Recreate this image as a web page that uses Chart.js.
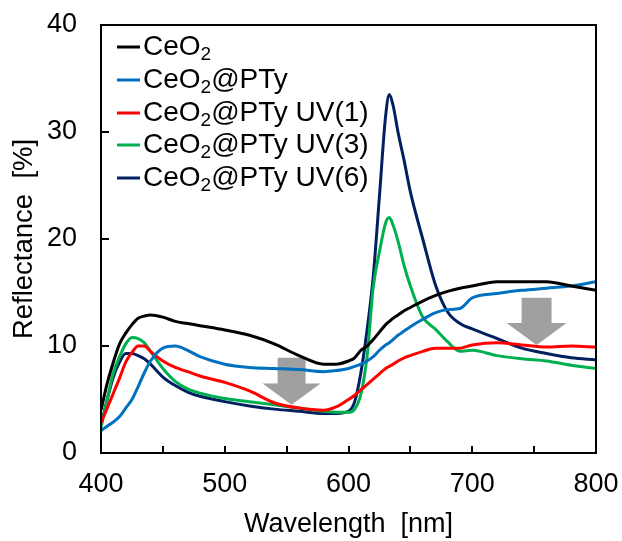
<!DOCTYPE html>
<html>
<head>
<meta charset="utf-8">
<script src="https://cdn.jsdelivr.net/npm/chart.js@4.4.1/dist/chart.umd.min.js"></script>
<style>
  html, body { margin: 0; padding: 0; background: #fff; }
  #wrap { width: 622px; height: 541px; }
</style>
</head>
<body>
<div id="wrap"><canvas id="reflChart" width="622" height="541"></canvas></div>
<script>
const wavelength = [400, 405, 410, 415, 420, 425, 430, 435, 440, 450, 460, 470, 480, 500, 520, 540, 560, 580, 590, 600,
    605, 610, 615, 620, 625, 630, 633, 636, 640, 645, 650, 660, 670, 680, 690, 700, 720, 740, 760, 780, 800];

const ceo2 = [4.0, 6.5, 8.5, 10.2, 11.2, 12.0, 12.6, 12.8, 12.9, 12.7, 12.3, 12.1, 11.9, 11.5, 11.0, 10.2, 9.1, 8.3, 8.3, 8.6,
    8.9, 9.6, 10.0, 10.6, 11.3, 12.0, 12.3, 12.6, 12.9, 13.3, 13.6, 14.2, 14.7, 15.1, 15.4, 15.6, 16.0, 16.0, 16.0, 15.6, 15.2];
const ceo2Pty = [2.1, 2.5, 2.9, 3.4, 4.2, 5.0, 6.2, 7.5, 8.6, 9.8, 10.0, 9.6, 9.0, 8.3, 8.0, 7.9, 7.8, 7.6, 7.7, 7.9,
    8.1, 8.3, 8.6, 9.0, 9.6, 10.1, 10.3, 10.6, 11.0, 11.4, 11.8, 12.5, 13.1, 13.4, 13.5, 14.5, 14.9, 15.2, 15.4, 15.6, 16.0];
const uv1 = [2.8, 4.2, 5.6, 7.0, 8.5, 9.4, 10.0, 10.0, 9.5, 8.6, 8.0, 7.6, 7.2, 6.6, 5.8, 4.7, 4.2, 4.0, 4.3, 5.0,
    5.4, 5.9, 6.4, 6.9, 7.4, 7.9, 8.1, 8.3, 8.6, 8.9, 9.1, 9.5, 9.8, 9.8, 9.8, 10.1, 10.3, 10.1, 9.9, 10.0, 9.9];
const uv3 = [2.4, 5.0, 7.5, 9.0, 10.2, 10.8, 10.7, 10.3, 9.5, 7.9, 6.7, 6.0, 5.6, 5.1, 4.8, 4.5, 4.2, 3.9, 3.8, 3.8,
    4.1, 5.5, 9.0, 15.5, 18.8, 21.5, 22.0, 21.3, 19.8, 17.5, 15.6, 12.7, 11.6, 10.4, 9.5, 9.6, 9.1, 8.8, 8.6, 8.2, 7.9];
const uv6 = [2.6, 5.0, 7.1, 8.5, 9.3, 9.3, 9.1, 8.8, 8.3, 7.1, 6.3, 5.7, 5.3, 4.8, 4.4, 4.1, 3.9, 3.7, 3.7, 3.9,
    4.8, 7.5, 11.5, 16.5, 24.0, 31.5, 33.5, 32.5, 30.0, 27.3, 24.4, 20.0, 15.8, 13.2, 12.1, 11.6, 10.7, 9.8, 9.3, 8.9, 8.7];

const seriesNames = ['CeO', 'CeO', 'CeO', 'CeO', 'CeO'];
const seriesTails = ['', '@PTy', '@PTy UV(1)', '@PTy UV(3)', '@PTy UV(6)'];
const seriesColors = ['#000000', '#0070c0', '#ff0000', '#00b050', '#002060'];

const xTicks = [400, 500, 600, 700, 800];
const yTicks = [0, 10, 20, 30, 40];
const xMinor = [450, 500, 550, 600, 650, 700, 750];
const yMinor = [10, 20, 30];

// arrows: [centre wavelength, top value, head start value, tip value, shaft half width, head half width]
const arrowDown1 = [554, 8.9, 6.5, 4.5, 11.3, 23.4];
const arrowDown2 = [752, 14.5, 12.15, 10.1, 12.1, 24.2];

const FONT = 'Liberation Sans, Arial, sans-serif';

function toPoints(ys) {
    return wavelength.map((w, i) => ({ x: w, y: ys[i] }));
}

const allSeries = [ceo2, ceo2Pty, uv1, uv3, uv6];

const frameAndTicks = {
    id: 'frameAndTicks',
    beforeDatasetsDraw(chart) {
        const { ctx, scales: { x, y } } = chart;
        ctx.save();
        ctx.fillStyle = '#a0a0a0';
        [arrowDown1, arrowDown2].forEach(a => {
            const cx = x.getPixelForValue(a[0]);
            const sw = x.getPixelForValue(a[0] + a[4]) - cx;
            const hw = x.getPixelForValue(a[0] + a[5]) - cx;
            const top = y.getPixelForValue(a[1]);
            const mid = y.getPixelForValue(a[2]);
            const tip = y.getPixelForValue(a[3]);
            ctx.beginPath();
            ctx.moveTo(cx - sw, top);
            ctx.lineTo(cx + sw, top);
            ctx.lineTo(cx + sw, mid);
            ctx.lineTo(cx + hw, mid);
            ctx.lineTo(cx, tip);
            ctx.lineTo(cx - hw, mid);
            ctx.lineTo(cx - sw, mid);
            ctx.closePath();
            ctx.fill();
        });
        ctx.restore();
    },
    afterDatasetsDraw(chart) {
        const { ctx, chartArea: a, scales: { x, y } } = chart;
        ctx.save();
        ctx.strokeStyle = '#000';
        ctx.lineWidth = 2;
        ctx.strokeRect(a.left, a.top, a.right - a.left, a.bottom - a.top);
        ctx.beginPath();
        xMinor.forEach(v => {
            const px = Math.round(x.getPixelForValue(v));
            ctx.moveTo(px, a.bottom);
            ctx.lineTo(px, a.bottom - 7);
        });
        yMinor.forEach(v => {
            const py = Math.round(y.getPixelForValue(v));
            ctx.moveTo(a.left, py);
            ctx.lineTo(a.left + 8, py);
        });
        ctx.stroke();

        // legend
        const rowY = [47, 80, 113, 145, 178];
        seriesNames.forEach((name, i) => {
            const yy = rowY[i];
            ctx.strokeStyle = seriesColors[i];
            ctx.lineWidth = 3;
            ctx.beginPath();
            ctx.moveTo(117, yy);
            ctx.lineTo(140, yy);
            ctx.stroke();
            ctx.fillStyle = '#000';
            ctx.textBaseline = 'middle';
            ctx.textAlign = 'left';
            ctx.font = '28px ' + FONT;
            let tx = 143;
            ctx.fillText(name, tx, yy);
            tx += ctx.measureText(name).width;
            ctx.font = '19px ' + FONT;
            ctx.fillText('2', tx, yy + 8);
            tx += ctx.measureText('2').width;
            ctx.font = '28px ' + FONT;
            ctx.fillText(seriesTails[i], tx, yy);
        });
        ctx.restore();
    }
};

const ctx = document.getElementById('reflChart').getContext('2d');
const reflChart = new Chart(ctx, {
    type: 'line',
    data: {
        datasets: allSeries.map((ys, i) => ({
            label: seriesNames[i] + '2' + seriesTails[i],
            data: toPoints(ys),
            borderColor: seriesColors[i],
            backgroundColor: seriesColors[i],
            borderWidth: 3,
            pointRadius: 0,
            cubicInterpolationMode: 'monotone',
            fill: false
        }))
    },
    options: {
        responsive: false,
        animation: false,
        devicePixelRatio: 1,
        layout: { padding: { left: 0, right: 26, top: 25, bottom: 0 } },
        plugins: {
            legend: { display: false },
            tooltip: { enabled: false }
        },
        scales: {
            x: {
                type: 'linear',
                min: 400,
                max: 800,
                afterBuildTicks: s => { s.ticks = xTicks.map(v => ({ value: v })); },
                afterFit: s => { s.height = 88; s.paddingLeft = 0; s.paddingRight = 0; },
                grid: { display: false, drawTicks: false },
                border: { display: false },
                ticks: { color: '#000', font: { family: FONT, size: 27 }, padding: 15, maxRotation: 0 },
                title: {
                    display: true,
                    text: 'Wavelength  [nm]',
                    color: '#000',
                    font: { family: FONT, size: 27 },
                    padding: { top: 0, bottom: 0 }
                }
            },
            y: {
                min: 0,
                max: 40,
                afterBuildTicks: s => { s.ticks = yTicks.map(v => ({ value: v })); },
                afterFit: s => { s.width = 101; s.paddingTop = 0; s.paddingBottom = 0; },
                grid: { display: false, drawTicks: false },
                border: { display: false },
                ticks: { color: '#000', font: { family: FONT, size: 27 }, padding: 24 },
                title: {
                    display: true,
                    text: 'Reflectance  [%]',
                    color: '#000',
                    font: { family: FONT, size: 27.5 },
                    padding: { top: 8, bottom: 0 }
                }
            }
        }
    },
    plugins: [frameAndTicks]
});
</script>
</body>
</html>
